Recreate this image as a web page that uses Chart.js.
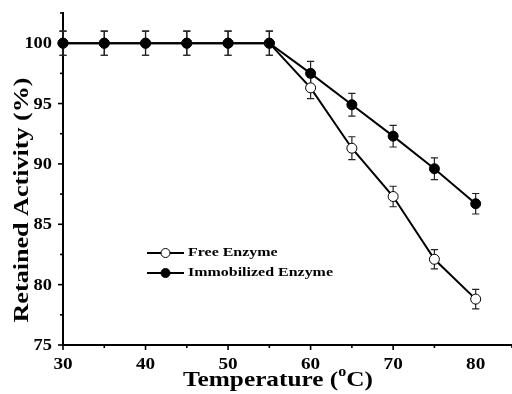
<!DOCTYPE html>
<html>
<head>
<meta charset="utf-8">
<script src="https://cdn.jsdelivr.net/npm/chart.js@4/dist/chart.umd.min.js"></script>
<style>
html,body{margin:0;padding:0;background:#fff;}
#wrap{width:512px;height:394px;position:relative;}
</style>
</head>
<body>
<div id="wrap"><canvas id="c" width="512" height="394"></canvas></div>
<script>
// ---- data ----
const temperatures = [30, 35, 40, 45, 50, 55, 60, 65, 70, 75, 80];
const freeEnzyme = [100, 100, 100, 100, 100, 100, 96.3, 91.3, 87.3, 82.1, 78.8];
const freeErr = [1, 1, 1, 1, 1, 1, 0.9, 0.95, 0.85, 0.8, 0.8];
const immobilizedEnzyme = [100, 100, 100, 100, 100, 100, 97.5, 94.9, 92.3, 89.6, 86.7];
const immobilizedErr = [1, 1, 1, 1, 1, 1, 1.0, 0.94, 0.9, 0.9, 0.85];
const xTickLabels = ['30', '40', '50', '60', '70', '80'];
const yTickLabels = ['75', '80', '85', '90', '95', '100'];
const seriesNames = ['Free Enzyme', 'Immobilized Enzyme'];
const xTitle = ['Temperature (', 'o', 'C)'];
const yTitle = 'Retained Activity (%)';

const FONT = '"Liberation Serif", "Times New Roman", serif';

function pts(ys, errs) {
  return temperatures.map((t, i) => ({x: t, y: ys[i], e: errs[i]}));
}

function drawStretched(ctx, text, x, y, font, sx, align) {
  ctx.save();
  ctx.font = font;
  ctx.textBaseline = 'middle';
  const w = ctx.measureText(text).width * sx;
  let left = x;
  if (align === 'center') left = x - w / 2;
  else if (align === 'right') left = x - w;
  ctx.translate(left, y);
  ctx.scale(sx, 1);
  ctx.textAlign = 'left';
  ctx.fillText(text, 0, 0);
  ctx.restore();
}

const errorBars = {
  id: 'errorBars',
  beforeDatasetsDraw(chart) {
    const ctx = chart.ctx;
    const xs = chart.scales.x, ys = chart.scales.y;
    ctx.save();
    ctx.strokeStyle = '#222';
    ctx.lineWidth = 1.2;
    chart.data.datasets.forEach(ds => {
      ds.data.forEach(p => {
        const px = xs.getPixelForValue(p.x);
        const top = ys.getPixelForValue(p.y + p.e);
        const bot = ys.getPixelForValue(p.y - p.e);
        ctx.beginPath();
        ctx.moveTo(px, top); ctx.lineTo(px, bot);
        ctx.moveTo(px - 3.6, top); ctx.lineTo(px + 3.6, top);
        ctx.moveTo(px - 3.6, bot); ctx.lineTo(px + 3.6, bot);
        ctx.stroke();
      });
    });
    ctx.restore();
  }
};

const decorations = {
  id: 'decorations',
  afterDraw(chart) {
    const ctx = chart.ctx;
    const xs = chart.scales.x, ys = chart.scales.y;
    const area = chart.chartArea;
    ctx.save();
    ctx.strokeStyle = '#000';
    ctx.fillStyle = '#000';
    ctx.lineWidth = 1.6;
    // x ticks
    xs.ticks.forEach(t => {
      const px = xs.getPixelForValue(t.value);
      const major = xTickLabels.includes(String(t.value));
      ctx.beginPath();
      ctx.moveTo(px, area.bottom);
      ctx.lineTo(px, area.bottom + (major ? 5 : 3));
      ctx.stroke();
    });
    // y ticks
    ys.ticks.forEach(t => {
      const py = ys.getPixelForValue(t.value);
      const major = yTickLabels.includes(String(t.value));
      ctx.beginPath();
      ctx.moveTo(area.left, py);
      ctx.lineTo(area.left - (major ? 5 : 3), py);
      ctx.stroke();
    });
    // tick labels
    const tickFont = 'bold 16px ' + FONT;
    xTickLabels.forEach(l => {
      const px = xs.getPixelForValue(Number(l));
      drawStretched(ctx, l, px, area.bottom + 20, tickFont, 1.2, 'center');
    });
    yTickLabels.forEach(l => {
      const py = ys.getPixelForValue(Number(l));
      drawStretched(ctx, l, area.left - 11, py + 1, tickFont, 1.15, 'right');
    });
    // y title (rotated)
    ctx.save();
    ctx.translate(23, 200);
    ctx.rotate(-Math.PI / 2);
    ctx.font = 'bold 20px ' + FONT;
    const yw = ctx.measureText(yTitle).width;
    drawStretched(ctx, yTitle, 0, 0, 'bold 20px ' + FONT, 245 / yw, 'center');
    ctx.restore();
    // x title with superscript
    const xf = 'bold 22px ' + FONT;
    const sf = 'bold 14px ' + FONT;
    ctx.font = xf;
    const w1 = ctx.measureText(xTitle[0]).width;
    const w3 = ctx.measureText(xTitle[2]).width;
    ctx.font = sf;
    const w2 = ctx.measureText(xTitle[1]).width;
    const sx = 190 / (w1 + w2 + w3);
    let x0 = 278 - 95;
    const yb = 380;
    drawStretched(ctx, xTitle[0], x0, yb, xf, sx, 'left');
    drawStretched(ctx, xTitle[1], x0 + w1 * sx, yb - 8, sf, sx, 'left');
    drawStretched(ctx, xTitle[2], x0 + (w1 + w2) * sx, yb, xf, sx, 'left');
    // legend
    const lf = 'bold 13px ' + FONT;
    ctx.font = lf;
    const lsx = 145 / ctx.measureText(seriesNames[1]).width;
    const rows = [253, 273];
    chart.data.datasets.forEach((ds, i) => {
      const y = rows[i];
      ctx.strokeStyle = '#000';
      ctx.lineWidth = 2;
      ctx.beginPath();
      ctx.moveTo(147, y); ctx.lineTo(184, y);
      ctx.stroke();
      ctx.beginPath();
      ctx.arc(165.5, y, 4.5, 0, Math.PI * 2);
      ctx.fillStyle = ds.pointBackgroundColor;
      ctx.fill();
      ctx.lineWidth = 1;
      ctx.stroke();
      ctx.fillStyle = '#000';
      drawStretched(ctx, ds.label, 188, y, lf, lsx, 'left');
    });
    ctx.restore();
  }
};

new Chart(document.getElementById('c'), {
  type: 'line',
  data: {
    datasets: [
      {
        label: seriesNames[0],
        data: pts(freeEnzyme, freeErr),
        order: 1,
        borderColor: '#000',
        borderWidth: 2,
        pointRadius: 5,
        pointBorderWidth: 1,
        pointBackgroundColor: '#fff',
        pointBorderColor: '#000',
        tension: 0,
        clip: false
      },
      {
        label: seriesNames[1],
        data: pts(immobilizedEnzyme, immobilizedErr),
        order: 0,
        borderColor: '#000',
        borderWidth: 2,
        pointRadius: 5,
        pointBorderWidth: 1,
        pointBackgroundColor: '#000',
        pointBorderColor: '#000',
        tension: 0,
        clip: false
      }
    ]
  },
  options: {
    responsive: false,
    animation: false,
    events: [],
    layout: {autoPadding: false, padding: {top: 13, right: 0, left: 0, bottom: 0}},
    plugins: {legend: {display: false}, tooltip: {enabled: false}},
    scales: {
      x: {
        type: 'linear',
        min: 30,
        max: 84.4,
        ticks: {display: false, stepSize: 5},
        grid: {display: false},
        border: {display: true, color: '#000', width: 2},
        afterFit(s) { s.height = 49; }
      },
      y: {
        type: 'linear',
        min: 75,
        max: 102.5,
        ticks: {display: false, stepSize: 2.5},
        grid: {display: false},
        border: {display: true, color: '#000', width: 2},
        afterFit(s) { s.width = 63; }
      }
    }
  },
  plugins: [errorBars, decorations]
});
</script>
</body>
</html>
